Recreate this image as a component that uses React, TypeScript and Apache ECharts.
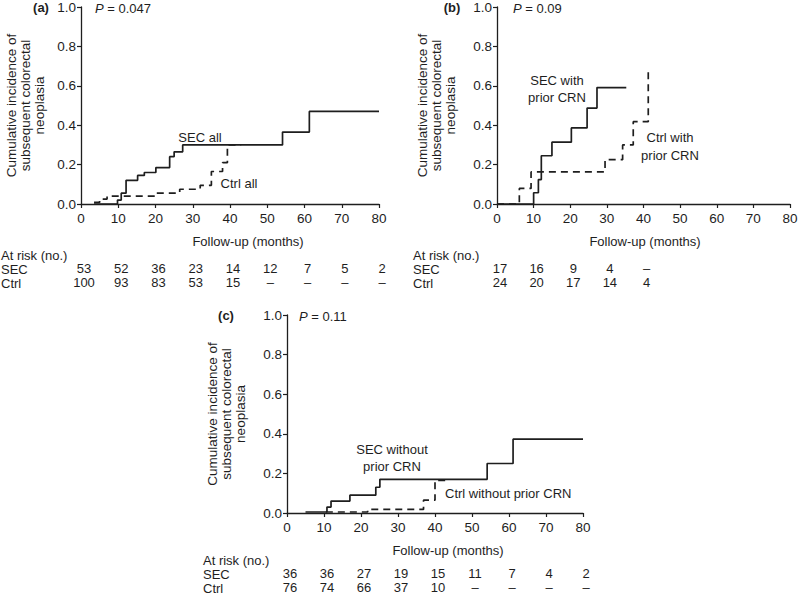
import React, { useEffect, useRef } from "react";
import * as echarts from "echarts";

// ---------- data ----------
const xTicks = [0, 10, 20, 30, 40, 50, 60, 70, 80];

// Panel (a)
const secAll: number[][] = [[3.5, 0], [9.8, 0.02], [10.8, 0.055], [12.1, 0.12], [15.2, 0.145], [17.0, 0.16], [20.1, 0.185], [23.8, 0.24], [25.0, 0.265], [27.3, 0.3], [54.1, 0.365], [61.3, 0.47], [80, 0.47]];
const ctrlAll: number[][] = [[3.5, 0.008], [5, 0.025], [7, 0.04], [20, 0.055], [26.5, 0.075], [32, 0.095], [35, 0.165], [38, 0.21], [39.3, 0.3], [43, 0.3]];
// Panel (b)
const secPrior: number[][] = [[0, 0], [10, 0.057], [11.3, 0.124], [12.1, 0.245], [15, 0.314], [20.3, 0.386], [24.6, 0.487], [27.3, 0.591], [35.3, 0.591]];
const ctrlPrior: number[][] = [[0, 0], [6.1, 0.079], [9.3, 0.163], [29.5, 0.225], [34.3, 0.3], [37.2, 0.418], [41.3, 0.684]];
// Panel (c)
const secNoPrior: number[][] = [[5, 0.005], [10.8, 0.03], [11.9, 0.06], [17, 0.09], [24, 0.13], [25.1, 0.17], [54.1, 0.25], [61.1, 0.373], [80, 0.373]];
const ctrlNoPrior: number[][] = [[10.5, 0.005], [21.8, 0.018], [36.9, 0.065], [40, 0.165], [43.3, 0.165]];

// At-risk tables
const riskA_SEC = ["53", "52", "36", "23", "14", "12", "7", "5", "2"];
const riskA_Ctrl = ["100", "93", "83", "53", "15", "–", "–", "–", "–"];
const riskB_SEC = ["17", "16", "9", "4", "–"];
const riskB_Ctrl = ["24", "20", "17", "14", "4"];
const riskC_SEC = ["36", "36", "27", "19", "15", "11", "7", "4", "2"];
const riskC_Ctrl = ["76", "74", "66", "37", "10", "–", "–", "–", "–"];

const pValues = ["0.047", "0.09", "0.11"];
const panelLetters = ["(a)", "(b)", "(c)"];
const yName = "Cumulative incidence of\nsubsequent colorectal\nneoplasia";
const xName = "Follow-up (months)";

// ---------- layout ----------
const FONT = "Liberation Sans, Arial, Helvetica, sans-serif";
const INK = "#1e1e1e";
const grids = [
  { left: 81, top: 7, width: 298, height: 197 },
  { left: 497, top: 7, width: 293, height: 197 },
  { left: 287, top: 315, width: 296, height: 198 },
];
const nameGaps = [35, 40, 40];

function txt(x: number, y: number, text: string, opts: any = {}) {
  return {
    type: "text",
    x,
    y,
    silent: true,
    style: {
      text,
      fill: INK,
      font: `${opts.bold ? "bold " : ""}13px ${FONT}`,
      textAlign: opts.align || "left",
      textVerticalAlign: "middle",
    },
  };
}

function tickX(g: { left: number; width: number }, v: number) {
  return g.left + (v / 80) * g.width;
}

function riskTexts(g: any, sec: string[], ctrl: string[], ySec: number, yCtrl: number) {
  const out: any[] = [];
  sec.forEach((s, i) => out.push(txt(tickX(g, xTicks[i]) + 3, ySec, s, { align: "center" })));
  ctrl.forEach((s, i) => out.push(txt(tickX(g, xTicks[i]) + 3, yCtrl, s, { align: "center" })));
  return out;
}

function pText(x: number, y: number, p: string) {
  return {
    type: "text",
    x,
    y,
    silent: true,
    style: {
      text: `{i|P} = ${p}`,
      fill: INK,
      font: `13px ${FONT}`,
      textVerticalAlign: "middle",
      rich: {
        i: { fontStyle: "italic", fontFamily: FONT, fontSize: 13, fill: INK },
      },
    },
  };
}

export default function App() {
  const ref = useRef<HTMLDivElement>(null);
  useEffect(() => {
    if (!ref.current) return;
    const chart = echarts.init(ref.current, undefined, { renderer: "svg" });

    const axisCommon = {
      axisLine: { show: true, lineStyle: { color: INK, width: 1.3 } },
      axisTick: { show: true, length: 4, inside: false, lineStyle: { color: INK, width: 1.2 } },
      splitLine: { show: false },
    };

    const xAxes = grids.map((_, i) => ({
      type: "value",
      gridIndex: i,
      min: 0,
      max: 80,
      interval: 10,
      ...axisCommon,
      axisLabel: { color: INK, fontSize: 13.5, fontFamily: FONT, margin: 7 },
    }));
    const yAxes = grids.map((_, i) => ({
      type: "value",
      gridIndex: i,
      min: 0,
      max: 1,
      interval: 0.2,
      ...axisCommon,
      axisLabel: {
        color: INK,
        fontSize: 13.5,
        fontFamily: FONT,
        margin: 5,
        formatter: (v: number) => v.toFixed(1),
      },
      name: yName,
      nameLocation: "middle",
      nameRotate: 90,
      nameGap: nameGaps[i],
      nameTextStyle: { color: INK, fontSize: 13.5, fontFamily: FONT, lineHeight: 14 },
    }));

    const mk = (data: number[][], idx: number, dashed: boolean) => ({
      type: "line",
      xAxisIndex: idx,
      yAxisIndex: idx,
      data,
      step: "end",
      symbol: "none",
      silent: true,
      lineStyle: { color: INK, width: 1.7, type: dashed ? [7, 5] : "solid" },
    });

    const graphic: any[] = [
      // panel letters
      txt(41, 7, panelLetters[0], { bold: true, align: "center" }),
      txt(452, 7, panelLetters[1], { bold: true, align: "center" }),
      txt(226, 315, panelLetters[2], { bold: true, align: "center" }),
      // p values
      pText(95, 8, pValues[0]),
      pText(513, 8, pValues[1]),
      pText(299, 316, pValues[2]),
      // x axis names
      txt(248, 241, xName, { align: "center" }),
      txt(645, 241, xName, { align: "center" }),
      txt(448, 550, xName, { align: "center" }),
      // curve labels
      txt(200, 137, "SEC all", { align: "center" }),
      txt(239, 183, "Ctrl all", { align: "center" }),
      txt(557, 80, "SEC with", { align: "center" }),
      txt(557, 97, "prior CRN", { align: "center" }),
      txt(670, 137, "Ctrl with", { align: "center" }),
      txt(670, 155, "prior CRN", { align: "center" }),
      txt(392, 449, "SEC without", { align: "center" }),
      txt(392, 466, "prior CRN", { align: "center" }),
      txt(445, 493, "Ctrl without prior CRN"),
      // at-risk tables
      txt(1, 255, "At risk (no.)"),
      txt(1, 269, "SEC"),
      txt(1, 283, "Ctrl"),
      ...riskTexts(grids[0], riskA_SEC, riskA_Ctrl, 268, 282),
      txt(413, 255, "At risk (no.)"),
      txt(413, 269, "SEC"),
      txt(413, 283, "Ctrl"),
      ...riskTexts(grids[1], riskB_SEC, riskB_Ctrl, 268, 282),
      txt(203, 560, "At risk (no.)"),
      txt(203, 574, "SEC"),
      txt(203, 588, "Ctrl"),
      ...riskTexts(grids[2], riskC_SEC, riskC_Ctrl, 573, 587),
    ];

    chart.setOption({
      animation: false,
      backgroundColor: "#ffffff",
      textStyle: { fontFamily: FONT },
      grid: grids.map((g) => ({ ...g, containLabel: false, outerBoundsMode: "none" })),
      xAxis: xAxes,
      yAxis: yAxes,
      series: [
        mk(secAll, 0, false),
        mk(ctrlAll, 0, true),
        mk(secPrior, 1, false),
        mk(ctrlPrior, 1, true),
        mk(secNoPrior, 2, false),
        mk(ctrlNoPrior, 2, true),
      ],
      graphic,
    });
    return () => chart.dispose();
  }, []);

  return (
    <div
      ref={ref}
      style={{ position: "fixed", left: 0, top: 0, width: 800, height: 595, background: "#fff" }}
    />
  );
}
